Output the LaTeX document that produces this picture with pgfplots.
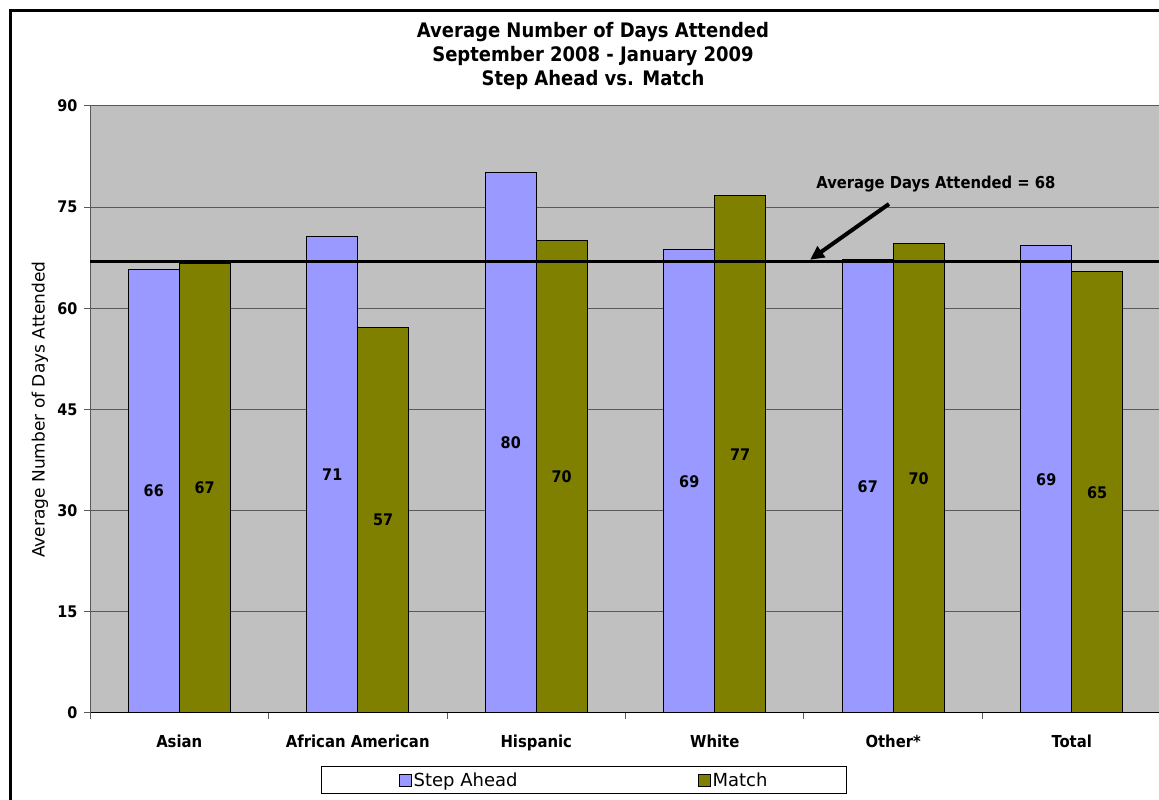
\documentclass[border=0pt]{standalone}
\usepackage{pgfplots}
\usepackage{pgfplotstable}
\pgfplotsset{compat=1.18}
\usetikzlibrary{arrows.meta}
\usepackage{fontspec}
\setmainfont{DejaVu Sans Condensed}
\newfontfamily\regfont{DejaVu Sans}
\definecolor{stepc}{HTML}{9999FF}
\definecolor{matchc}{HTML}{808000}
\definecolor{plotbg}{HTML}{C0C0C0}

\pgfplotstableread{
x sa ma
0.5 65.8 66.7
1.5 70.6 57.2
2.5 80.1 70.1
3.5 68.7 76.7
4.5 67.2 69.6
5.5 69.3 65.4
}\datatable

\begin{document}
\begin{tikzpicture}[x=1pt,y=1pt]
\begin{axis}[
  at={(90pt,87pt)}, anchor=south west,
  scale only axis, width=1071pt, height=607pt,
  xmin=0, xmax=6, ymin=0, ymax=90,
  axis x line=bottom, axis y line=left,
  axis line style={-},
  x axis line style={black, line width=1pt},
  y axis line style={black!65, line width=1pt},
  axis background/.style={fill=plotbg},
  ytick={0,15,30,45,60,75,90},
  ymajorgrids,
  major grid style={black!65, line width=1pt},
  xtick={0,1,2,3,4,5,6},
  xticklabels={},
  extra x ticks={0.5,1.5,2.5,3.5,4.5,5.5},
  extra x tick labels={Asian, African American, Hispanic, White, Other*, Total},
  extra x tick style={tick style={draw=none}},
  tick align=outside,
  major tick length=6pt,
  tick style={black!65, line width=1pt},
  /pgf/number format/assume math mode=true,
  yticklabel style={font=\bfseries\fontsize{16}{19}\selectfont, xshift=-3pt},
  xticklabel style={font=\bfseries\fontsize{16.5}{19}\selectfont, yshift=-12pt},
  ylabel={Average Number of Days Attended},
  ylabel style={at={(axis description cs:-0.0467,0.5)}, anchor=center, font=\regfont\fontsize{17}{20}\selectfont},
  title={Average Number of Days Attended\\September 2008 - January 2009\\Step Ahead vs. Match},
  title style={at={(axis description cs:0.4697,1.0242)}, anchor=base, align=center, font=\bfseries\fontsize{20}{24}\selectfont},
  legend columns=2,
  legend style={at={(axis description cs:0.4613,-0.1104)}, anchor=center, draw=black, fill=white,
    font=\regfont\fontsize{18}{21}\selectfont, inner xsep=77pt, inner ysep=4pt,
    /tikz/every even column/.append style={column sep=178pt}},
]
\addplot[ybar, bar width=51pt, bar shift=-25.5pt, fill=stepc, draw=black, line width=1pt,
  legend image code/.code={\draw[fill=stepc, draw=black, line width=1pt] (0pt,-6pt) rectangle (12pt,6pt);}]
  table[x=x, y=sa] {\datatable};
\addlegendentry{Step Ahead}
\addplot[ybar, bar width=51pt, bar shift=25.5pt, fill=matchc, draw=black, line width=1pt,
  legend image code/.code={\draw[fill=matchc, draw=black, line width=1pt] (0pt,-6pt) rectangle (12pt,6pt);}]
  table[x=x, y=ma] {\datatable};
\addlegendentry{Match}
\addplot[forget plot, draw=none, mark=none, nodes near coords, point meta=explicit,
  nodes near coords={\pgfmathprintnumber[fixed,precision=0]{\pgfplotspointmeta}},
  every node near coord/.append style={anchor=center, font=\bfseries\fontsize{16}{19}\selectfont}]
  table[x expr=\thisrow{x}-1/7, y expr=\thisrow{sa}/2, meta=sa] {\datatable};
\addplot[forget plot, draw=none, mark=none, nodes near coords, point meta=explicit,
  nodes near coords={\pgfmathprintnumber[fixed,precision=0]{\pgfplotspointmeta}},
  every node near coord/.append style={anchor=center, font=\bfseries\fontsize{16}{19}\selectfont}]
  table[x expr=\thisrow{x}+1/7, y expr=\thisrow{ma}/2, meta=ma] {\datatable};
\addplot[forget plot, black, line width=3pt] coordinates {(0,67) (6,67)};
\draw[line width=4pt, -{Triangle[length=14pt,width=13pt]}] (axis cs:4.476,75.47) -- (axis cs:4.034,67.2);
\node[font=\bfseries\fontsize{16.4}{19}\selectfont] at (axis cs:4.739,78.44) {Average Days Attended = 68};
\end{axis}
\draw[line width=3pt] (10.5,0) -- (10.5,789.5) -- (1159,789.5);
\pgfresetboundingbox
\useasboundingbox (0,0) rectangle (1159,800);
\end{tikzpicture}
\end{document}
